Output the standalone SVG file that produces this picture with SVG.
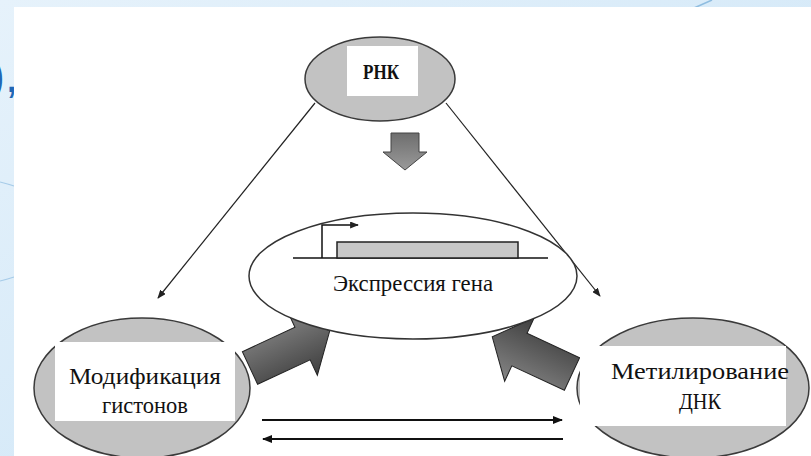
<svg xmlns="http://www.w3.org/2000/svg" width="811" height="456" viewBox="0 0 811 456">
<defs>
<linearGradient id="bg" x1="0" y1="0" x2="1" y2="1">
<stop offset="0" stop-color="#e6f2fb"/>
<stop offset="1" stop-color="#c9e3f6"/>
</linearGradient>
<linearGradient id="blk" x1="0" y1="0" x2="0" y2="1">
<stop offset="0" stop-color="#858585"/>
<stop offset="1" stop-color="#3e3e3e"/>
</linearGradient>
<linearGradient id="blkd" x1="0" y1="0" x2="0" y2="1">
<stop offset="0" stop-color="#6e6e6e"/>
<stop offset="1" stop-color="#9a9a9a"/>
</linearGradient>
<marker id="ah" viewBox="0 0 10 8" refX="9" refY="4" markerWidth="10" markerHeight="8" markerUnits="userSpaceOnUse" orient="auto">
<path d="M0,0 L10,4 L0,8 Z" fill="#111"/>
</marker>
<marker id="ahs" viewBox="0 0 10 8" refX="9" refY="4" markerWidth="9" markerHeight="7" markerUnits="userSpaceOnUse" orient="auto">
<path d="M0,0 L10,4 L0,8 Z" fill="#222"/>
</marker>
</defs>
<style>
.ell{fill:#c2c2c2;stroke:#3a3a3a;stroke-width:1.5}
.box{fill:#ffffff}
.lbl{font-family:"Liberation Serif","Times New Roman",serif;font-size:23px;fill:#111;text-anchor:middle}
.thin{stroke:#222;stroke-width:1.2;fill:none}
.dbl{stroke:#111;stroke-width:2;fill:none}
.blk{fill:url(#blk);stroke:#222;stroke-width:1}
</style>
<rect x="0" y="0" width="811" height="456" fill="url(#bg)"/>
<path d="M712,0 L694,8" stroke="#8fbde0" stroke-width="1.5" fill="none"/>
<path d="M0,182 Q8,184 14,186" stroke="#a6cbe8" stroke-width="1.2" fill="none"/>
<path d="M0,281 Q8,279 14,277" stroke="#a6cbe8" stroke-width="1.2" fill="none"/>
<text x="-11" y="92" font-family="Liberation Sans, Arial, sans-serif" font-size="48" fill="#2167b5">),</text>
<rect x="14" y="7" width="797" height="449" fill="#ffffff"/>

<g id="connectors">
<line class="thin" x1="315" y1="103" x2="158" y2="298" marker-end="url(#ahs)"/>
<line class="thin" x1="446" y1="103" x2="600" y2="296" marker-end="url(#ahs)"/>
<polygon class="blk" transform="translate(250,368) rotate(-25)" points="0,-18 58,-18 58,-35 88,0 58,35 58,18 0,18"/>
<polygon class="blk" transform="translate(572,374) rotate(-155)" points="0,-18 58,-18 58,-35 88,0 58,35 58,18 0,18"/>
<polygon fill="url(#blkd)" stroke="#444" stroke-width="1" points="391,133 419,133 419,152 427,152 405,170 383,152 391,152"/>
<line class="dbl" x1="262" y1="420" x2="562" y2="420" marker-end="url(#ah)"/>
<line class="dbl" x1="563" y1="439" x2="263" y2="439" marker-end="url(#ah)"/>
</g>

<g id="rna">
<ellipse class="ell" cx="380" cy="79" rx="75" ry="42"/>
<rect class="box" x="347" y="46" width="71" height="50"/>
<text x="381" y="79" font-family="Liberation Serif, Times New Roman, serif" font-size="20" font-weight="bold" fill="#111" text-anchor="middle" textLength="36" lengthAdjust="spacingAndGlyphs">РНК</text>
</g>

<g id="gene">
<ellipse cx="413" cy="276" rx="164" ry="63" fill="#ffffff" stroke="#333" stroke-width="1.5"/>
<line x1="293" y1="258" x2="548" y2="258" stroke="#111" stroke-width="1.5"/>
<rect x="337" y="242" width="181" height="16" fill="#c8c8c8" stroke="#222" stroke-width="1.5"/>
<path d="M322,258 V225 H358" stroke="#111" stroke-width="1.5" fill="none" marker-end="url(#ahs)"/>
<text class="lbl" x="413" y="291" textLength="160" lengthAdjust="spacingAndGlyphs">Экспрессия гена</text>
</g>

<g id="histone">
<ellipse class="ell" cx="142" cy="388" rx="108" ry="70"/>
<rect class="box" x="55" y="342" width="180" height="79"/>
<text class="lbl" x="145" y="384" textLength="152" lengthAdjust="spacingAndGlyphs">Модификация</text>
<text class="lbl" x="145" y="413" textLength="86" lengthAdjust="spacingAndGlyphs">гистонов</text>
</g>

<g id="methyl">
<ellipse class="ell" cx="693" cy="388" rx="116" ry="70"/>
<rect class="box" x="580" y="346" width="206" height="80"/>
<text class="lbl" x="700" y="379" textLength="178" lengthAdjust="spacingAndGlyphs">Метилирование</text>
<text class="lbl" x="700" y="409" textLength="42" lengthAdjust="spacingAndGlyphs">ДНК</text>
</g>
</svg>
